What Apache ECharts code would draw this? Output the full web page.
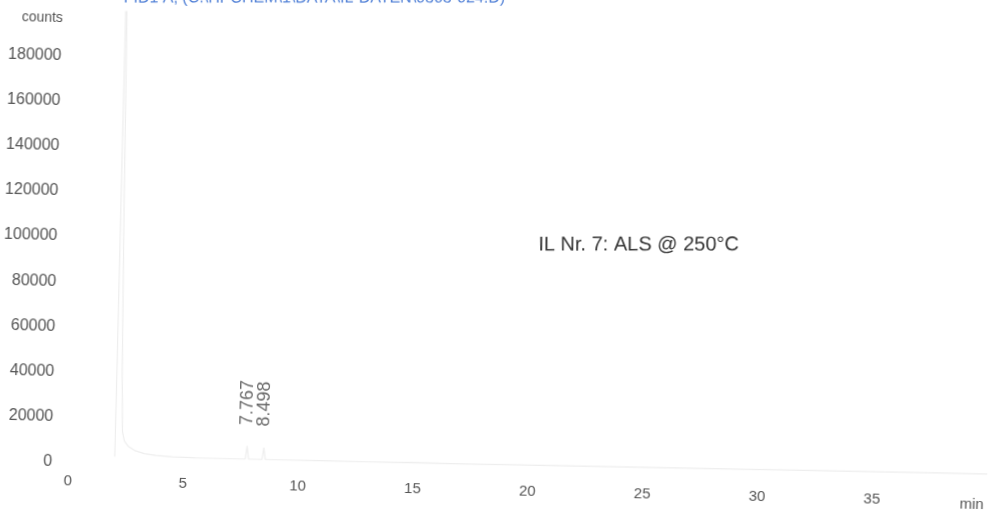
<!DOCTYPE html>
<html>
<head>
<meta charset="utf-8">
<script src="https://cdn.jsdelivr.net/npm/echarts@6/dist/echarts.min.js"></script>
<style>
  html, body { margin: 0; padding: 0; background: #ffffff; overflow: hidden; }
  /* the printed trace sits slightly askew on the page */
  #chart { width: 995px; height: 517px; transform: rotate(1.3deg); transform-origin: 50% 50%; }
</style>
</head>
<body>
<div id="chart"></div>
<script>
// Retention time (min) and detector signal (counts) of the FID trace
const retentionTimes = [2.02, 2.06, 2.12, 2.18, 2.26, 2.33, 2.42, 2.6, 2.9, 3.3, 3.8, 4.5, 5.5, 6.5, 7.5, 7.70, 7.767, 7.84, 8.2, 8.43, 8.498, 8.57, 9.5, 11, 13, 15, 17, 20, 23, 26, 29, 32, 35, 38, 40];
const signalCounts  = [3000, 240000, 190000, 110000, 40000, 14000, 10000, 7600, 5800, 4600, 3900, 3500, 3300, 3200, 3200, 3300, 9000, 3300, 3200, 3300, 8500, 3300, 3200, 3300, 3200, 3400, 3300, 3400, 3500, 3600, 3700, 3800, 3900, 4000, 4000];

// Integrated peaks with their retention times
const peakTimes  = [7.767, 8.498];
const peakCounts = [9000, 8500];

// Axis ticks
const xTicks = [0, 5, 10, 15, 20, 25, 30, 35];
const yTicks = [0, 20000, 40000, 60000, 80000, 100000, 120000, 140000, 160000, 180000];

const traceData = retentionTimes.map((t, i) => [t, signalCounts[i]]);
const peakData = peakTimes.map((t, i) => [t, peakCounts[i]]);

const chart = echarts.init(document.getElementById('chart'), null, { renderer: 'canvas' });

const labelFont = 'Liberation Sans, Arial, sans-serif';
// header lines are printed level, so they undo the page tilt
const levelTilt = 1.3 * Math.PI / 180;

chart.setOption({
  animation: false,
  backgroundColor: '#ffffff',
  grid: { left: 73, right: 3, top: 20, bottom: 45, containLabel: false },
  xAxis: {
    type: 'value',
    min: 0,
    max: 40,
    interval: 5,
    axisLine: { show: false },
    axisTick: { show: false },
    splitLine: { show: false },
    axisLabel: {
      margin: 11,
      color: '#555555',
      fontSize: 15,
      fontFamily: labelFont,
      formatter: v => (xTicks.indexOf(v) >= 0 ? String(v) : '')
    }
  },
  yAxis: {
    type: 'value',
    min: 0,
    max: 200000,
    interval: 20000,
    axisLine: { show: false },
    axisTick: { show: false },
    splitLine: { show: false },
    axisLabel: {
      margin: 16,
      color: '#555555',
      fontSize: 16,
      fontFamily: labelFont,
      formatter: v => (yTicks.indexOf(v) >= 0 ? String(v) : '')
    }
  },
  graphic: [
    {
      type: 'text',
      x: 499, y: -10,
      rotation: levelTilt,
      style: {
        text: 'FID1 A, (C:\\HPCHEM\\1\\DATA\\IL-DATEN\\0303-024.D)',
        fill: '#4f7fd6',
        font: '16px ' + labelFont,
        textAlign: 'right',
        textVerticalAlign: 'top'
      }
    },
    {
      type: 'text',
      x: 37, y: 28,
      style: {
        text: 'counts',
        fill: '#555555',
        font: '14px ' + labelFont,
        textAlign: 'center',
        textVerticalAlign: 'middle'
      }
    },
    {
      type: 'text',
      x: 977, y: 494,
      style: {
        text: 'min',
        fill: '#555555',
        font: '15px ' + labelFont,
        textAlign: 'center',
        textVerticalAlign: 'middle'
      }
    },
    {
      type: 'text',
      x: 538, y: 244,
      rotation: levelTilt,
      style: {
        text: 'IL Nr. 7: ALS @ 250°C',
        fill: '#333333',
        font: '20px ' + labelFont,
        textAlign: 'left',
        textVerticalAlign: 'middle'
      }
    }
  ],
  series: [
    {
      name: 'FID1 A',
      type: 'line',
      data: traceData,
      showSymbol: false,
      symbol: 'none',
      clip: true,
      lineStyle: { color: '#eeeeee', width: 1.2 }
    },
    {
      name: 'peaks',
      type: 'scatter',
      data: peakData,
      symbolSize: 0,
      label: {
        show: true,
        position: 'top',
        distance: 21,
        rotate: 90,
        align: 'left',
        verticalAlign: 'middle',
        color: '#444444',
        fontSize: 18,
        fontFamily: labelFont,
        formatter: p => p.value[0].toFixed(3)
      }
    }
  ]
});
</script>
</body>
</html>
